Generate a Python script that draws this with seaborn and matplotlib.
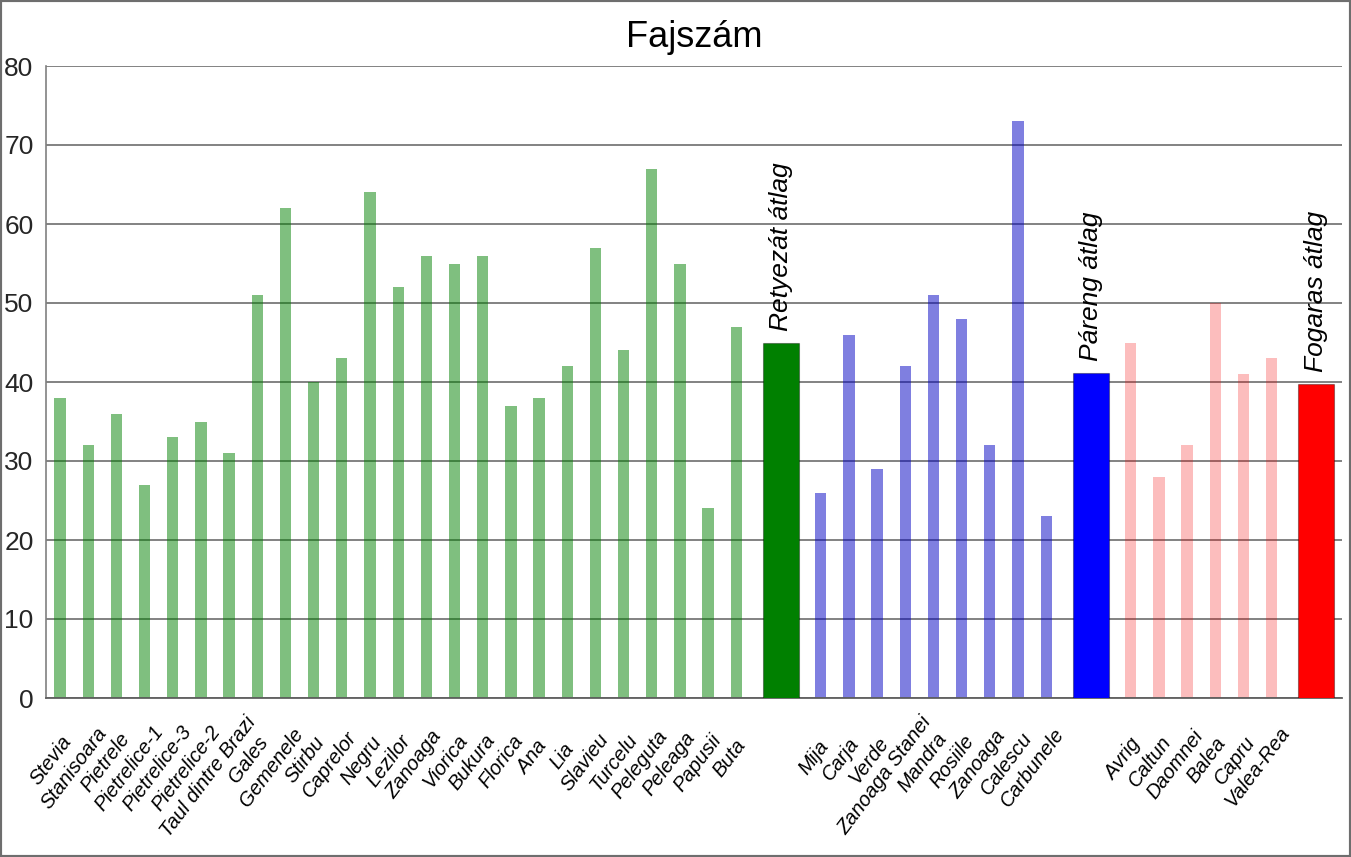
import numpy as np
import pandas as pd
import matplotlib
matplotlib.use("Agg")
import matplotlib.pyplot as plt
import seaborn as sns
from matplotlib.patches import Rectangle

# ---------------- data ----------------
title = "Fajszám"
retyezat_lakes = ["Stevia", "Stanisoara", "Pietrele", "Pietrelice-1", "Pietrelice-3",
                  "Pietrelice-2", "Taul dintre Brazi", "Gales", "Gemenele", "Stirbu",
                  "Caprelor", "Negru", "Lezilor", "Zanoaga", "Viorica", "Bukura",
                  "Florica", "Ana", "Lia", "Slavieu", "Turcelu", "Peleguta", "Peleaga",
                  "Papusii", "Buta"]
retyezat_values = [38, 32, 36, 27, 33, 35, 31, 51, 62, 40, 43, 64, 52, 56, 55, 56,
                   37, 38, 42, 57, 44, 67, 55, 24, 47]
pareng_lakes = ["Mija", "Carja", "Verde", "Zanoaga Stanei", "Mandra", "Rosiile",
                "Zanoaga", "Calescu", "Carbunele"]
pareng_values = [26, 46, 29, 42, 51, 48, 32, 73, 23]
fogaras_lakes = ["Avrig", "Caltun", "Daomnei", "Balea", "Capru", "Valea-Rea"]
fogaras_values = [45, 28, 32, 50, 41, 43]
group_names = ["Retyezát", "Páreng", "Fogaras"]
average_labels = ["Retyezát átlag", "Páreng átlag", "Fogaras átlag"]
average_values = [44.9, 41.1, 39.8]
y_ticks = [0, 10, 20, 30, 40, 50, 60, 70, 80]

# ---------------- styles ----------------
light_palette = {"Retyezát": (0.0, 0.5, 0.0, 0.5),
                 "Páreng": (0.0, 0.0, 0.76, 0.5),
                 "Fogaras": (0.96, 0.0, 0.0, 0.26)}
dark_colors = ["#008000", "#0000FF", "#FF0000"]
grid_color = "#787878"

sns.set_style("white")
plt.rcParams["font.family"] = ["Liberation Sans", "DejaVu Sans"]

# ---------------- table built from the lists ----------------
groups = [(retyezat_lakes, retyezat_values), (pareng_lakes, pareng_values),
          (fogaras_lakes, fogaras_values)]
rows = []
avg_pos = []
start = 0
for gname, (lakes, vals) in zip(group_names, groups):
    for i, (n, v) in enumerate(zip(lakes, vals)):
        rows.append(dict(slot=start + i, lake=n, value=v, group=gname))
    avg_pos.append(start + len(lakes) + 0.58)
    start += len(lakes) + 2
n_slots = start
df = pd.DataFrame(rows)

W, H, DPI = 1351, 857, 100
fig = plt.figure(figsize=(W / DPI, H / DPI), dpi=DPI)
ax = fig.add_axes([46 / W, 159 / H, 1296 / W, 632 / H])

ax.set_axisbelow(True)
ax.yaxis.grid(True, color=grid_color, linewidth=1.3)
ax.xaxis.grid(False)

sns.barplot(data=df, x="slot", y="value", hue="group", palette=light_palette,
            native_scale=True, width=0.4, dodge=False, legend=False,
            saturation=1, errorbar=None, linewidth=0, ax=ax)

ax.bar(avg_pos, average_values, width=1.28, color=dark_colors,
       edgecolor=(0, 0, 0, 0.35), linewidth=0.8, zorder=3)

for lab, pos, val in zip(average_labels, avg_pos, average_values):
    ax.annotate(lab, xy=(pos, val), xytext=(0, 12), textcoords="offset pixels",
                rotation=90, ha="center", va="bottom", fontsize=19,
                style="italic", color="black")

# axes
ax.set_xlim(-0.5, n_slots - 0.5)
ax.set_ylim(0, 80)
ax.set_yticks(y_ticks)
ax.set_yticklabels([str(t) for t in y_ticks])
for t in ax.get_yticklabels():
    t.set_fontsize(19)
ax.set_xticks(np.arange(n_slots + 1) - 0.5)
ax.set_xticklabels([])
ax.tick_params(axis="x", direction="out", length=6, width=1, color="#808080")
ax.tick_params(axis="y", direction="out", length=3, width=1, color="#808080", pad=6)
ax.set_xlabel("")
ax.set_ylabel("")
for side in ["top", "right"]:
    ax.spines[side].set_visible(False)
ax.spines["left"].set_color("#808080")
ax.spines["bottom"].set_color("#606060")
ax.spines["left"].set_linewidth(1.2)
ax.spines["bottom"].set_linewidth(1.3)

ax.set_title(title, fontsize=26, pad=14, color="black")

# rotated category labels
label_font = dict(family="Liberation Sans", style="italic", size=14.5)
theta = 53
c, s = np.cos(np.radians(theta)), np.sin(np.radians(theta))
fig.canvas.draw()
renderer = fig.canvas.get_renderer()
for _, r in df.iterrows():
    tmp = fig.text(0, 0, r["lake"], **label_font)
    L = tmp.get_window_extent(renderer).width
    tmp.remove()
    dx = -1.5 - 0.22 * L * c
    dy = -(52.7 + 0.22 * L * s)
    ax.annotate(r["lake"], xy=(r["slot"], 0), xycoords=("data", "axes fraction"),
                xytext=(dx, dy), textcoords="offset pixels", ha="center", va="center",
                rotation=theta, rotation_mode="anchor", annotation_clip=False,
                color="black", **label_font)

fig.add_artist(Rectangle((0, 0), 1, 1, transform=fig.transFigure, fill=False,
                         edgecolor="#6e6e6e", linewidth=3))

fig.savefig("out.png", dpi=DPI)
